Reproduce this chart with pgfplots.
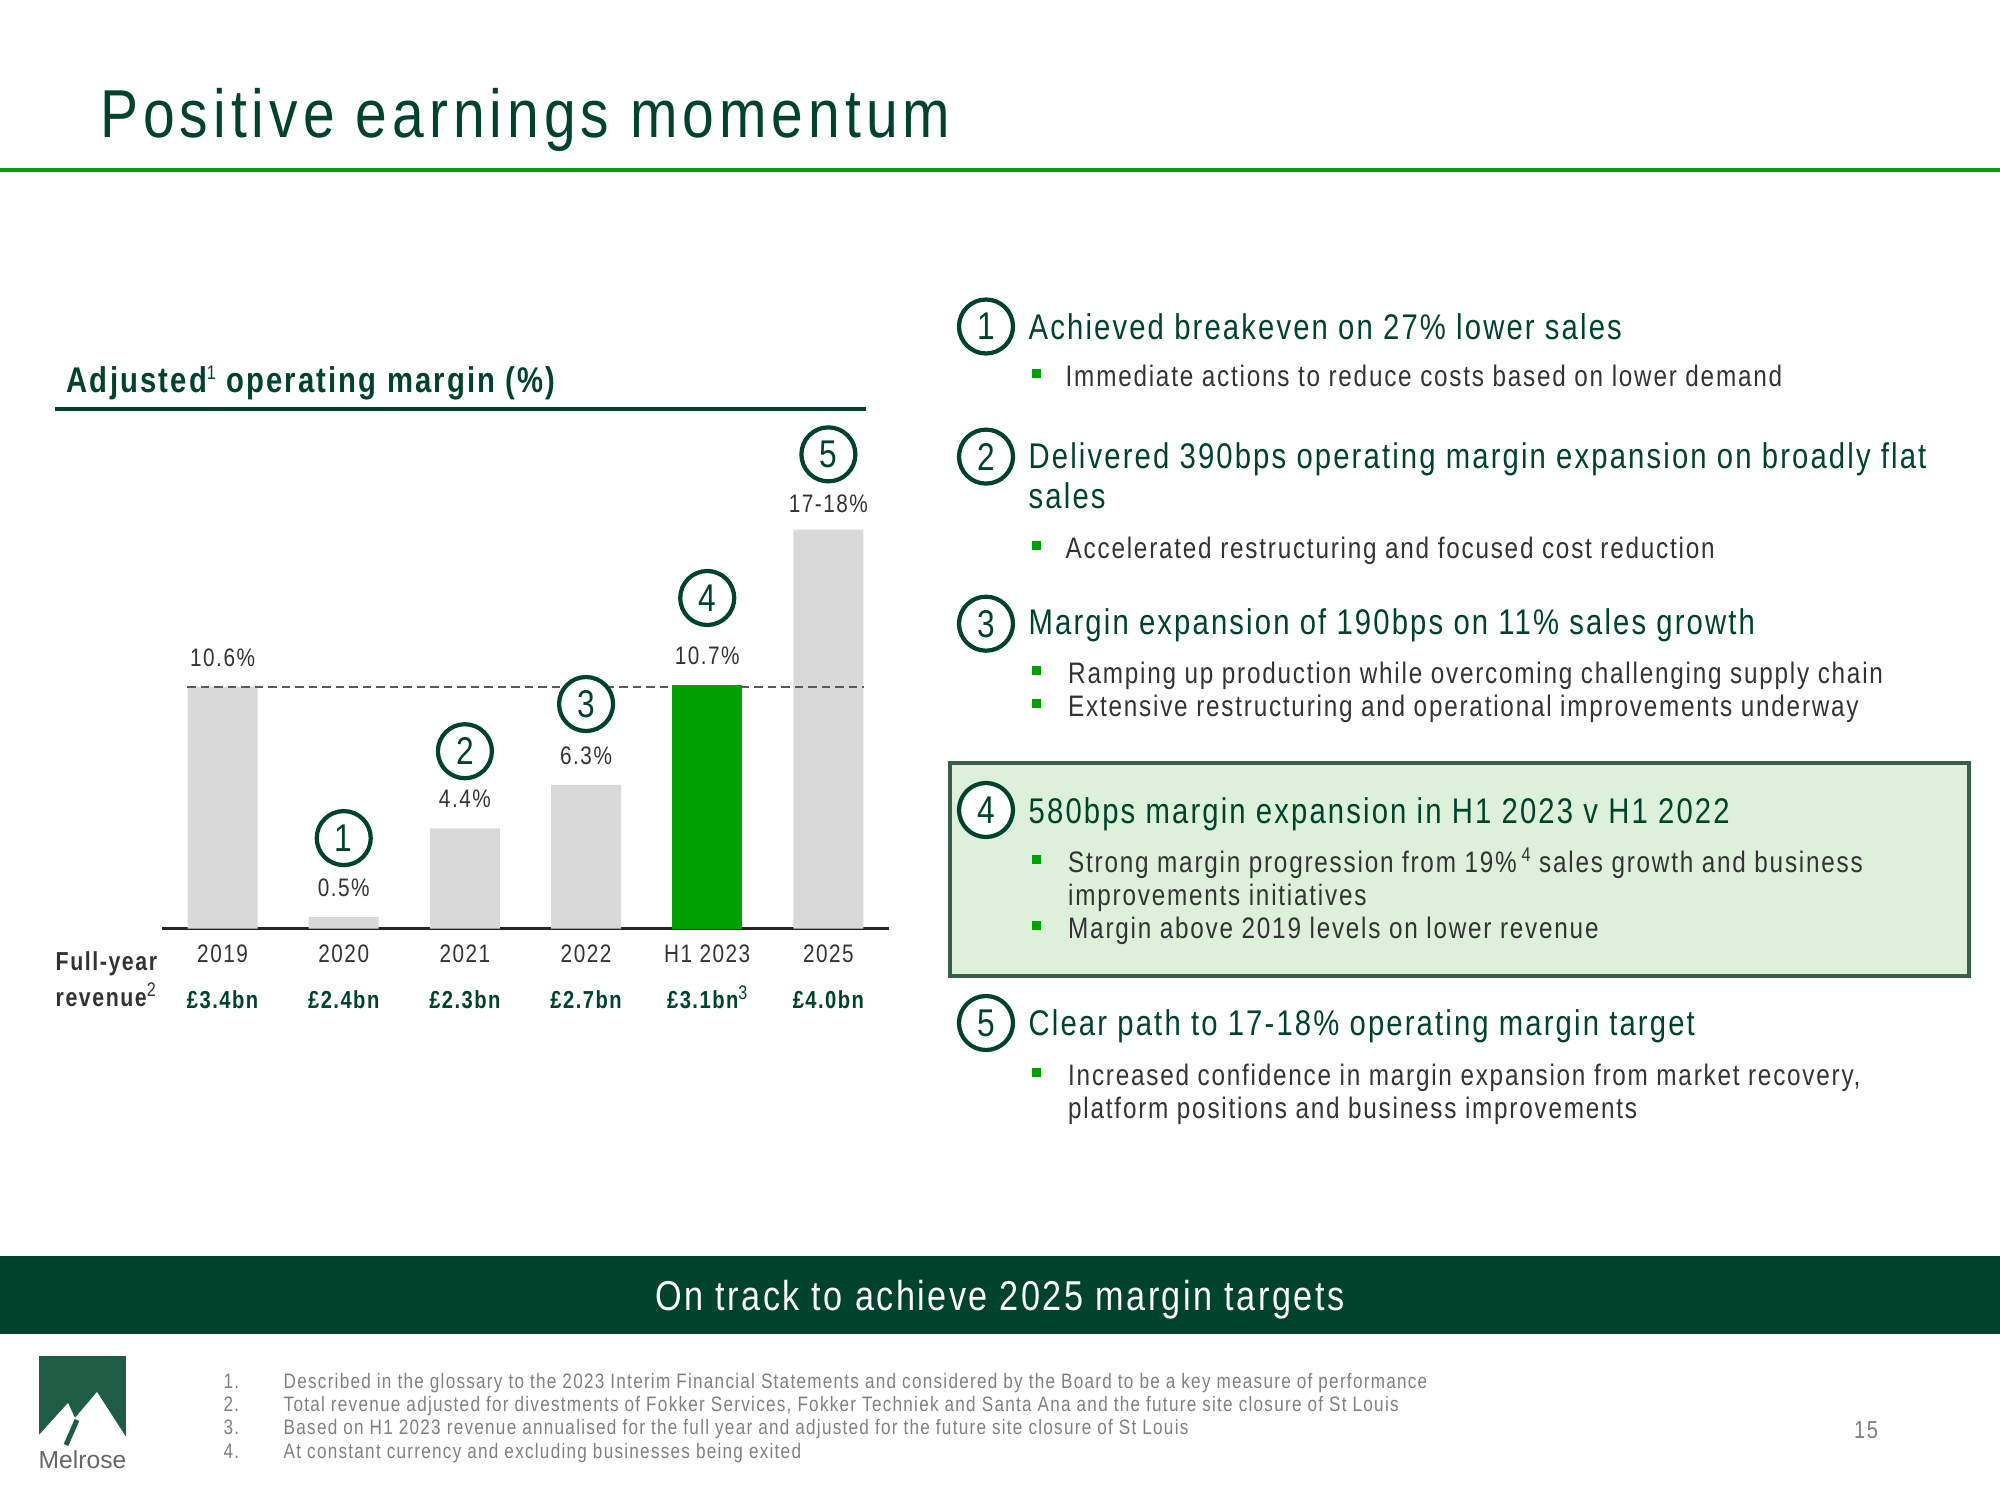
\documentclass[border=0pt]{standalone}
\usepackage{pgfplots}
\pgfplotsset{compat=1.18}
\usepackage{fontspec}
\setmainfont{Liberation Sans}[FakeStretch=0.82, LetterSpace=6]
\newfontfamily\titlefont{Liberation Sans}[FakeStretch=0.84, LetterSpace=7.4]
\newfontfamily\plainfont{Liberation Sans}
\definecolor{dkgreen}{RGB}{0,67,44}
\definecolor{brgreen}{RGB}{0,160,0}
\definecolor{bargray}{RGB}{217,217,217}
\definecolor{boxfill}{RGB}{220,240,218}
\definecolor{boxline}{RGB}{58,94,74}
\definecolor{txtgray}{RGB}{51,51,51}
\definecolor{fngray}{RGB}{128,128,128}
\definecolor{logogreen}{RGB}{31,92,70}
\newcommand{\fs}[1]{\fontsize{#1}{#1}\selectfont}
\newcommand{\supr}[1]{\raisebox{0.7ex}{\fontsize{5.6}{6}\selectfont\mdseries #1}}
\tikzset{
  num/.style={circle, draw=dkgreen, line width=1.2pt, fill=white, inner sep=0pt, minimum size=0.54cm, text=dkgreen, font={\fs{11}}},
  head/.style={anchor=base west, inner sep=0pt, text=dkgreen, font={\fs{10.15}}},
  bul/.style={anchor=base west, inner sep=0pt, text=txtgray, font={\fs{8.43}}},
  vl/.style={anchor=center, inner sep=0pt, yshift=0.29cm, text=txtgray, font={\fs{7.2}}},
  rev/.style={anchor=base, inner sep=0pt, yshift=-0.80cm, text=dkgreen, font={\fs{7}\bfseries}},
  fn/.style={anchor=base west, inner sep=0pt, text=fngray, font={\fs{5.95}}},
}
\newcommand{\bsq}[1]{\fill[brgreen] (10.32,{#1+0.085}) rectangle ++(0.09,0.09);}
\begin{document}
\begin{tikzpicture}[x=1cm,y=1cm]
\path (0,0) rectangle (20,15);
% title
\node[anchor=base west, inner sep=0pt, text=dkgreen, font={\titlefont\fs{19.3}}] at (0.995,13.62) {Positive earnings momentum};
\fill[brgreen] (0,13.28) rectangle (20,13.32);
% chart subtitle
\node[anchor=base west, inner sep=0pt, text=dkgreen, font={\fs{10.16}\bfseries}] at (0.66,11.07) {Adjusted\supr{1} operating margin (\%)};
\fill[dkgreen] (0.548,10.886) rectangle (8.66,10.926);
% chart
\begin{axis}[
  at={(1.62cm,5.714cm)}, anchor=south west,
  scale only axis, width=7.27cm, height=4.56cm,
  xmin=-0.5, xmax=5.5, ymin=0, ymax=20,
  axis y line=none, axis x line*=bottom,
  x axis line style={-, line width=0.9pt, draw=black!85},
  xtick={0,1,2,3,4,5},
  xticklabels={2019,2020,2021,2022,H1 2023,2025},
  xtick style={draw=none},
  xticklabel style={anchor=center, yshift=-0.255cm, font={\fs{7.2}}, text=txtgray, inner sep=0pt},
  ytick=\empty,
  clip=false,
]
\addplot[ybar, bar width=0.7cm, bar shift=0pt, fill=bargray, draw=none] coordinates {(0,10.6) (1,0.5) (2,4.4) (3,6.3) (5,17.5)};
\addplot[sharp plot, no marks, draw=black!65, line width=0.8pt, dash pattern=on 0.085cm off 0.05cm] coordinates {(-0.29,10.6) (5.29,10.6)};
\addplot[ybar, bar width=0.7cm, bar shift=0pt, fill=brgreen, draw=none] coordinates {(4,10.7)};
\node[vl] at (axis cs:0,10.6) {10.6\%};
\node[vl] at (axis cs:1,0.5) {0.5\%};
\node[vl] at (axis cs:2,4.4) {4.4\%};
\node[vl] at (axis cs:3,6.3) {6.3\%};
\node[vl] at (axis cs:4,10.7) {10.7\%};
\node[vl, yshift=-0.03cm] at (axis cs:5,17.5) {17-18\%};
\node[rev] at (axis cs:0,0) {£3.4bn};
\node[rev] at (axis cs:1,0) {£2.4bn};
\node[rev] at (axis cs:2,0) {£2.3bn};
\node[rev] at (axis cs:3,0) {£2.7bn};
\node[rev] at (axis cs:4,0) {£3.1bn\supr{3}};
\node[rev] at (axis cs:5,0) {£4.0bn};
\node[num] at (axis cs:1,3.97) {1};
\node[num] at (axis cs:2,7.78) {2};
\node[num] at (axis cs:3,9.85) {3};
\node[num] at (axis cs:4,14.5) {4};
\node[num] at (axis cs:5,20.8) {5};
\end{axis}
\node[anchor=west, inner sep=0pt, text=txtgray, font={\fs{7.4}\bfseries}] at (0.55,5.36) {Full-year};
\node[anchor=west, inner sep=0pt, text=txtgray, font={\fs{7.4}\bfseries}] at (0.55,5.05) {revenue\supr{2}};
% highlight box
\draw[boxline, line width=0.04cm, fill=boxfill] (9.50,5.242) rectangle (19.69,7.373);
% right column
\node[num] at (9.86,11.735) {1};
\node[head] at (10.28,11.609) {Achieved breakeven on 27\% lower sales};
\bsq{11.135}\node[bul] at (10.65,11.135) {Immediate actions to reduce costs based on lower demand};
\node[num] at (9.86,10.434) {2};
\node[head] at (10.28,10.313) {Delivered 390bps operating margin expansion on broadly flat};
\node[head] at (10.28,9.917) {sales};
\bsq{9.413}\node[bul] at (10.65,9.413) {Accelerated restructuring and focused cost reduction};
\node[num] at (9.86,8.763) {3};
\node[head] at (10.28,8.654) {Margin expansion of 190bps on 11\% sales growth};
\bsq{8.163}\node[bul] at (10.675,8.163) {Ramping up production while overcoming challenging supply chain};
\bsq{7.832}\node[bul] at (10.675,7.832) {Extensive restructuring and operational improvements underway};
\node[num] at (9.86,6.90) {4};
\node[head] at (10.28,6.767) {580bps margin expansion in H1 2023 v H1 2022};
\bsq{6.276}\node[bul] at (10.675,6.276) {Strong margin progression from 19\%\,\supr{4} sales growth and business};
\node[bul] at (10.675,5.944) {improvements initiatives};
\bsq{5.612}\node[bul] at (10.675,5.612) {Margin above 2019 levels on lower revenue};
\node[num] at (9.86,4.77) {5};
\node[head] at (10.28,4.65) {Clear path to 17-18\% operating margin target};
\bsq{4.145}\node[bul] at (10.675,4.145) {Increased confidence in margin expansion from market recovery,};
\node[bul] at (10.675,3.814) {platform positions and business improvements};
% bottom band
\fill[dkgreen] (0,1.658) rectangle (20,2.436);
\node[anchor=base, inner sep=0pt, text=white, font={\fs{11.87}}] at (10,1.90) {On track to achieve 2025 margin targets};
% footnotes
\node[fn] at (2.23,1.116) {1.};\node[fn] at (2.83,1.116) {Described in the glossary to the 2023 Interim Financial Statements and considered by the Board to be a key measure of performance};
\node[fn] at (2.23,0.887) {2.};\node[fn] at (2.83,0.887) {Total revenue adjusted for divestments of Fokker Services, Fokker Techniek and Santa Ana and the future site closure of St Louis};
\node[fn] at (2.23,0.657) {3.};\node[fn] at (2.83,0.657) {Based on H1 2023 revenue annualised for the full year and adjusted for the future site closure of St Louis};
\node[fn] at (2.23,0.415) {4.};\node[fn] at (2.83,0.415) {At constant currency and excluding businesses being exited};
\node[anchor=center, inner sep=0pt, text=fngray, font={\fs{7}}] at (18.66,0.70) {15};
% logo
\fill[logogreen] (0.39,0.55) rectangle (1.26,1.44);
\fill[white] (0.39,0.55) -- (0.39,0.65) -- (0.68,0.97) -- (0.75,0.82) -- (0.97,1.08) -- (1.26,0.63) -- (1.26,0.55) -- cycle;
\draw[logogreen, line width=0.05cm] (0.77,0.80) -- (0.66,0.55);
\node[anchor=center, inner sep=0pt, text=black!60, font={\plainfont\fs{7}}] at (0.825,0.40) {Melrose};
\end{tikzpicture}
\end{document}
